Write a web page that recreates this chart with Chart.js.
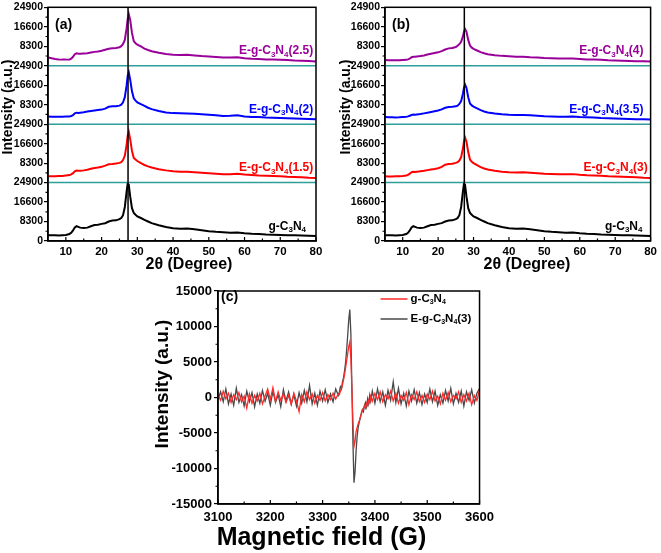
<!DOCTYPE html>
<html>
<head>
<meta charset="utf-8">
<script src="https://cdn.jsdelivr.net/npm/chart.js@4.4.0/dist/chart.umd.min.js"></script>
<style>
  html, body { margin: 0; padding: 0; background: #fff; }
  #wrap { position: relative; width: 661px; height: 553px; overflow: hidden; }
  canvas { position: absolute; }
</style>
</head>
<body>
<div id="wrap">
  <canvas id="cA" width="330" height="280" style="left:0;top:0"></canvas>
  <canvas id="cB" width="331" height="280" style="left:330px;top:0"></canvas>
  <canvas id="cC" width="370" height="273" style="left:130px;top:280px"></canvas>
</div>
<script>
// ---- XRD data (2-theta in degrees, intensity per stacked block) ----
const twoTheta = [5,6,7,8,9,10,11,11.5,12,12.5,13,13.5,14,15,16,17,18,19,20,21,22,23,24,25,25.5,26,26.5,27,27.3,27.6,28,28.5,29,29.5,30,31,32,33,34,36,38,40,42,44,46,48,50,52,54,56,58,60,62,64,66,68,70,72,74,76,78,80];

const gC3N4 = [2500,2400,2450,2350,2500,2600,3000, 3500,4500,5800,6300,6000,5700,
  5500,5700,6300,6800,6900,7300,7600,8300,8700,8800,9300,
  9800,11000,14500,21000,24500,24000,19000,14000,12000,11200,10500,
  9800,9000,8300,7600,
  6700,6000,5400,5200,5300,5000,4600,4200,3900,3700,3500,3600,3300,3100,3000,2800,2700,2600,2500,2400,2300,2200,2100];

const eC3N4_15 = [2700,2650,2700,2750,2800,3000,3200, 3500,4000,4800,5100,5000,5000,
  5200,5500,5900,6200,6400,6700,7200,7800,7900,8100,8400,
  8700,9600,11500,16000,20000,21600,18500,13500,10500,9800,9200,
  8300,7500,6900,6400,
  5700,5200,4800,4600,4600,4400,4200,4000,3800,3600,3600,3800,3400,3200,3000,2900,2800,2700,2500,2400,2300,2100,2000];

const eC3N4_2 = [3300,3200,3200,3150,3200,3300,3300, 3500,3800,4600,4900,4800,4900,
  5100,5400,5600,5800,6000,6200,6600,7400,7600,7600,7900,
  8300,9300,11500,16500,20500,22100,19000,14000,11000,10000,9300,
  8500,7800,7000,6400,
  5600,5000,4700,4600,4500,4400,4200,4000,3800,3500,3600,3800,3300,3100,3000,2800,2700,2600,2500,2400,2300,2200,2100];

const eC3N4_25 = [3500,3200,2900,2700,2600,2600,2700, 3000,3800,4900,5300,5100,5100,
  5200,5300,5600,5900,6100,6400,6800,7200,7400,7600,7900,
  8300,9300,11000,16000,20000,22000,19500,14000,10500,9600,9000,
  8200,7300,6700,6200,
  5500,5000,4700,4600,4700,4400,4100,3900,3700,3500,3500,3600,3200,3000,2900,2700,2600,2500,2400,2200,2100,2000,1800];

const eC3N4_3 = [2700,2600,2600,2700,2700,2800,3000, 3300,3800,4400,4600,4500,4600,
  4800,5000,5300,5600,5800,6100,6700,7600,7900,8000,8400,
  8700,9400,10800,14500,17500,19200,17500,13000,9800,8900,8300,
  7400,6600,6000,5600,
  5000,4600,4400,4300,4400,4200,4000,3800,3700,3500,3500,3600,3300,3100,3000,2900,2700,2600,2500,2400,2300,2100,2000];

const eC3N4_35 = [3000,2900,2900,2850,2900,3000,3100, 3300,3600,3900,4100,4000,4100,
  4300,4600,4900,5200,5500,5800,6300,7000,7300,7400,7600,
  7900,8600,9800,13000,15500,16900,15500,11500,8800,8000,7500,
  6700,6000,5400,5000,
  4500,4200,4000,3900,3900,3800,3600,3400,3300,3200,3200,3300,3000,2900,2800,2600,2500,2400,2300,2200,2100,2100,2000];

const eC3N4_4 = [2400,2300,2300,2300,2300,2400,2500, 2700,3000,3600,3800,3800,3900,
  4100,4400,4800,5100,5400,5700,6200,6900,7400,7600,8000,
  8500,9200,10200,12500,14500,15600,14500,11000,8600,7700,7200,
  6500,5800,5300,4900,
  4500,4200,4000,3800,3800,3600,3500,3300,3200,3100,3100,3100,2900,2700,2600,2500,2300,2200,2100,2000,1900,1900,1800];

const blockHeight = 24900;
const peakLine = 27.4;
const xrdYTicks = [0,8300,16600,24900,33200,41500,49800,58100,66400,74700,83000,91300,99600];
const xrdXTicks = [10,20,30,40,50,60,70,80];
const xrdXMinor = [15,25,35,45,55,65,75];

// ---- EPR data (magnetic field in G) ----
const field = [3100,3105,3110,3115,3120,3125,3130,3135,3140,3145,3150,3155,3160,3165,3170,3175,3180,3185,3190,3195,
  3200,3205,3210,3215,3220,3225,3230,3235,3240,3245,3250,3255,3260,3265,3270,3275,3280,3285,3290,3295,
  3300,3305,3310,3315,3320,3325,3330,
  3332,3334,3336,3338,3340,3342,3344,3346,3348,3350,3352,3354,3356,3358,3360,3362,3364,3366,3368,3370,
  3372,3374,3376,3378,3380,3382,3384,3386,3388,3390,3392,
  3395,3400,3405,3410,3415,3420,3425,3430,3435,3440,3445,3450,3455,3460,3465,3470,3475,3480,3485,3490,
  3495,3500,3505,3510,3515,3520,3525,3530,3535,3540,3545,3550,3555,3560,3565,3570,3575,3580,3585,3590,3595,3600];

const eprG = [300,-400,900,-200,600,-700,400,-300,700,-600, 200,-1500,500,-800,300,-500,600,-900,200,1200,
  -300,1400,-600,800,-400,500,-700,300,-1000,600, -500,-2000,400,-600,800,-300,500,-800,300,-400,
  700,-500,400,-300,600,-200,500,
  400,900,1200,1800,2500,3300,4200,5200,6200,7200, 7800,5500,1000,-3500,-6900,-6200,-4800,-4200,-3700,-3300,
  -2800,-2300,-1900,-1500,-1200,-1500,-800,-1100,-400,-700, 200,
  -500,600,-300,800,-600,400,-200,900,-500,600, -800,300,-400,700,-1000,400,-300,800,-600,300,
  -700,500,-300,900,-500,200,-900,600,-400,700, -600,300,-200,800,-700,400,-500,600,-1000,300, -400,1100];

const eprE3 = [-300,800,-600,1200,-900,500,-1100,1300,-700,400, -1200,900,-600,700,-1300,500,-800,1000,-500,600,
  -1100,900,-700,400,-1300,1100,-500,800,-900,400, -1200,700,-800,1000,-600,1700,-900,600,-1100,900,
  -500,1100,-700,500,-600,1200,300,
  800,1500,1200,2200,2800,3800,5000,6800,8800,11000, 12400,9000,1500,-6500,-12000,-10500,-7500,-5500,-4200,-3500,
  -2900,-2200,-1700,-2000,-1100,-700,-1300,-200,-900,300, -500,
  900,-800,1200,-600,800,-1100,1000,-400,2200,-700, 1300,-900,600,-1200,900,-500,1100,-800,700,-1000,
  500,-700,1200,-600,900,-1100,400,-800,1000,-500, 1300,-900,600,-700,900,-1200,800,-400,1100,-800, 600,1300];

const eprYTicks = [-15000,-10000,-5000,0,5000,10000,15000];
const eprXTicks = [3100,3200,3300,3400,3500,3600];
const eprXMinor = [3150,3250,3350,3450,3550];

// ---- helpers ----
const FONT = "'Liberation Sans', Arial, sans-serif";
Chart.defaults.font.family = FONT;
Chart.defaults.color = '#000';

// '_' marks the next character as a subscript
function drawRich(ctx, text, x, y, size, color, align) {
  const parts = [];
  for (let i = 0; i < text.length; i++) {
    if (text[i] === '_' && i + 1 < text.length) { parts.push({ t: text[i + 1], sub: true }); i++; }
    else parts.push({ t: text[i], sub: false });
  }
  const subSize = Math.round(size * 0.65);
  ctx.save();
  ctx.fillStyle = color;
  ctx.textBaseline = 'middle';
  ctx.textAlign = 'left';
  let w = 0;
  parts.forEach(p => {
    ctx.font = `bold ${p.sub ? subSize : size}px ${FONT}`;
    p.w = ctx.measureText(p.t).width;
    w += p.w;
  });
  let cx = align === 'right' ? x - w : x;
  parts.forEach(p => {
    ctx.font = `bold ${p.sub ? subSize : size}px ${FONT}`;
    ctx.fillText(p.t, cx, p.sub ? y + size * 0.3 : y);
    cx += p.w;
  });
  ctx.restore();
}

function drawTitle(ctx, text, x, y, size, rotated) {
  ctx.save();
  ctx.translate(x, y);
  if (rotated) ctx.rotate(-Math.PI / 2);
  ctx.font = `bold ${size}px ${FONT}`;
  ctx.fillStyle = '#000';
  ctx.textAlign = 'center';
  ctx.textBaseline = 'middle';
  ctx.fillText(text, 0, 0);
  ctx.restore();
}

const midpoints = arr => arr.slice(1).map((v, i) => (v + arr[i]) / 2);

// inward x ticks, outward minor y ticks, full box, then panel specific text
function framePlugin(opts) {
  return {
    id: 'frame',
    afterDraw(chart) {
      const { ctx, chartArea: a, scales: { x, y } } = chart;
      ctx.save();
      ctx.strokeStyle = '#000';
      ctx.lineWidth = 1.2;
      ctx.beginPath();
      opts.xMajor.forEach(v => { const px = x.getPixelForValue(v); ctx.moveTo(px, a.bottom); ctx.lineTo(px, a.bottom - 4); });
      opts.xMinor.forEach(v => { const px = x.getPixelForValue(v); ctx.moveTo(px, a.bottom); ctx.lineTo(px, a.bottom - 2.5); });
      midpoints(opts.yMajor).forEach(v => { const py = y.getPixelForValue(v); ctx.moveTo(a.left, py); ctx.lineTo(a.left - 2.5, py); });
      ctx.stroke();
      ctx.lineWidth = 1.5;
      ctx.strokeRect(a.left, a.top, a.right - a.left, a.bottom - a.top);
      ctx.restore();
      opts.extra(chart);
    }
  };
}

// =======================================================
// Panels (a) and (b): stacked XRD patterns
// =======================================================
const xrdColors = ['#000000', '#ff0000', '#0000ff', '#990099'];

const xrdPanels = [
  { id: 'cA', tag: '(a)', series: [gC3N4, eC3N4_15, eC3N4_2, eC3N4_25],
    names: ['g-C_3N_4', 'E-g-C_3N_4(1.5)', 'E-g-C_3N_4(2)', 'E-g-C_3N_4(2.5)'],
    labelRight: [77.2, 79.2, 79.2, 79.2], axisW: 48, padRight: 14, yTitleX: 8, xTitleX: 189 },
  { id: 'cB', tag: '(b)', series: [gC3N4, eC3N4_3, eC3N4_35, eC3N4_4],
    names: ['g-C_3N_4', 'E-g-C_3N_4(3)', 'E-g-C_3N_4(3.5)', 'E-g-C_3N_4(4)'],
    labelRight: [77.7, 79.2, 78.0, 78.0], axisW: 55, padRight: 8, yTitleX: 16, xTitleX: 197 }
];

xrdPanels.forEach(p => {
  const nBlocks = p.series.length;
  const top = nBlocks * blockHeight;
  const datasets = [{
    data: [{ x: peakLine, y: 0 }, { x: peakLine, y: top }],
    borderColor: '#000', borderWidth: 1.5
  }];
  for (let k = 1; k < nBlocks; k++) {
    datasets.push({
      data: [{ x: 5, y: k * blockHeight }, { x: 80, y: k * blockHeight }],
      borderColor: '#2e9e9a', borderWidth: 1.5
    });
  }
  p.series.forEach((vals, k) => {
    datasets.push({
      data: twoTheta.map((t, i) => ({ x: t, y: vals[i] + k * blockHeight })),
      borderColor: xrdColors[k], borderWidth: 2
    });
  });

  new Chart(document.getElementById(p.id), {
    type: 'line',
    data: { datasets },
    options: {
      responsive: false, animation: false, devicePixelRatio: 1,
      layout: { padding: { left: 0, right: p.padRight, top: 7, bottom: 0 } },
      elements: { point: { radius: 0 }, line: { tension: 0 } },
      plugins: { legend: { display: false }, tooltip: { enabled: false } },
      scales: {
        x: {
          type: 'linear', min: 5, max: 80,
          afterBuildTicks: s => { s.ticks = xrdXTicks.map(v => ({ value: v })); },
          afterFit: s => { s.height = 39; },
          grid: { drawOnChartArea: false, drawTicks: false },
          border: { color: '#000', width: 1.5 },
          ticks: { font: { size: 11.5, weight: 'bold' }, color: '#000', padding: 4, maxRotation: 0, callback: v => String(v) }
        },
        y: {
          type: 'linear', min: 0, max: top,
          afterBuildTicks: s => { s.ticks = xrdYTicks.map(v => ({ value: v })); },
          afterFit: s => { s.width = p.axisW; },
          grid: { drawOnChartArea: false, drawTicks: true, tickLength: 4, color: '#000', lineWidth: 1.2 },
          border: { color: '#000', width: 1.5 },
          ticks: {
            font: { size: 10.5, weight: 'bold' }, color: '#000', padding: 1,
            callback: v => v === 0 ? '0' : String(v % blockHeight === 0 ? blockHeight : v % blockHeight)
          }
        }
      }
    },
    plugins: [framePlugin({
      xMajor: xrdXTicks, xMinor: xrdXMinor, yMajor: xrdYTicks,
      extra: chart => {
        const { ctx, chartArea: a, scales: { x, y } } = chart;
        p.names.forEach((name, k) => {
          drawRich(ctx, name, x.getPixelForValue(p.labelRight[k]), y.getPixelForValue(k * blockHeight + 6300), 12, xrdColors[k], 'right');
        });
        drawRich(ctx, p.tag, a.left + 7, a.top + 18, 14, '#000', 'left');
        drawTitle(ctx, 'Intensity (a.u.)', p.yTitleX, 107, 14, true);
        drawTitle(ctx, '2θ (Degree)', p.xTitleX, 265, 16, false);
      }
    })]
  });
});

// =======================================================
// Panel (c): EPR spectra
// =======================================================
const eprSeries = [
  { name: 'g-C_3N_4', vals: eprG, color: '#ff2a2a' },
  { name: 'E-g-C_3N_4(3)', vals: eprE3, color: '#484848' }
];

new Chart(document.getElementById('cC'), {
  type: 'line',
  data: {
    datasets: eprSeries.map(s => ({
      data: field.map((f, i) => ({ x: f, y: s.vals[i] })),
      borderColor: s.color, borderWidth: 1.3
    }))
  },
  options: {
    responsive: false, animation: false, devicePixelRatio: 1,
    layout: { padding: { left: 0, right: 18, top: 11, bottom: 0 } },
    elements: { point: { radius: 0 }, line: { tension: 0 } },
    plugins: { legend: { display: false }, tooltip: { enabled: false } },
    scales: {
      x: {
        type: 'linear', min: 3100, max: 3600,
        afterBuildTicks: s => { s.ticks = eprXTicks.map(v => ({ value: v })); },
        afterFit: s => { s.height = 49; },
        grid: { drawOnChartArea: false, drawTicks: false },
        border: { color: '#000', width: 1.5 },
        ticks: { font: { size: 13, weight: 'bold' }, color: '#000', padding: 6, maxRotation: 0, callback: v => String(v) }
      },
      y: {
        type: 'linear', min: -15000, max: 15000,
        afterBuildTicks: s => { s.ticks = eprYTicks.map(v => ({ value: v })); },
        afterFit: s => { s.width = 88; },
        grid: { drawOnChartArea: false, drawTicks: true, tickLength: 4, color: '#000', lineWidth: 1.2 },
        border: { color: '#000', width: 1.5 },
        ticks: { font: { size: 13, weight: 'bold' }, color: '#000', padding: 2, callback: v => String(v) }
      }
    }
  },
  plugins: [framePlugin({
    xMajor: eprXTicks, xMinor: eprXMinor, yMajor: eprYTicks,
    extra: chart => {
      const { ctx, chartArea: a } = chart;
      eprSeries.forEach((s, k) => {
        const ly = a.top + 8 + k * 20;
        ctx.save();
        ctx.strokeStyle = s.color;
        ctx.lineWidth = 1.5;
        ctx.beginPath();
        ctx.moveTo(a.right - 99, ly);
        ctx.lineTo(a.right - 72, ly);
        ctx.stroke();
        ctx.restore();
        drawRich(ctx, s.name, a.right - 69, ly, 11.5, '#000', 'left');
      });
      drawRich(ctx, '(c)', a.left + 3, a.top + 6, 14, '#000', 'left');
      drawTitle(ctx, 'Intensity (a.u.)', 32.5, 104, 19, true);
      drawTitle(ctx, 'Magnetic field (G)', 191.5, 258, 25, false);
    }
  })]
});
</script>
</body>
</html>
